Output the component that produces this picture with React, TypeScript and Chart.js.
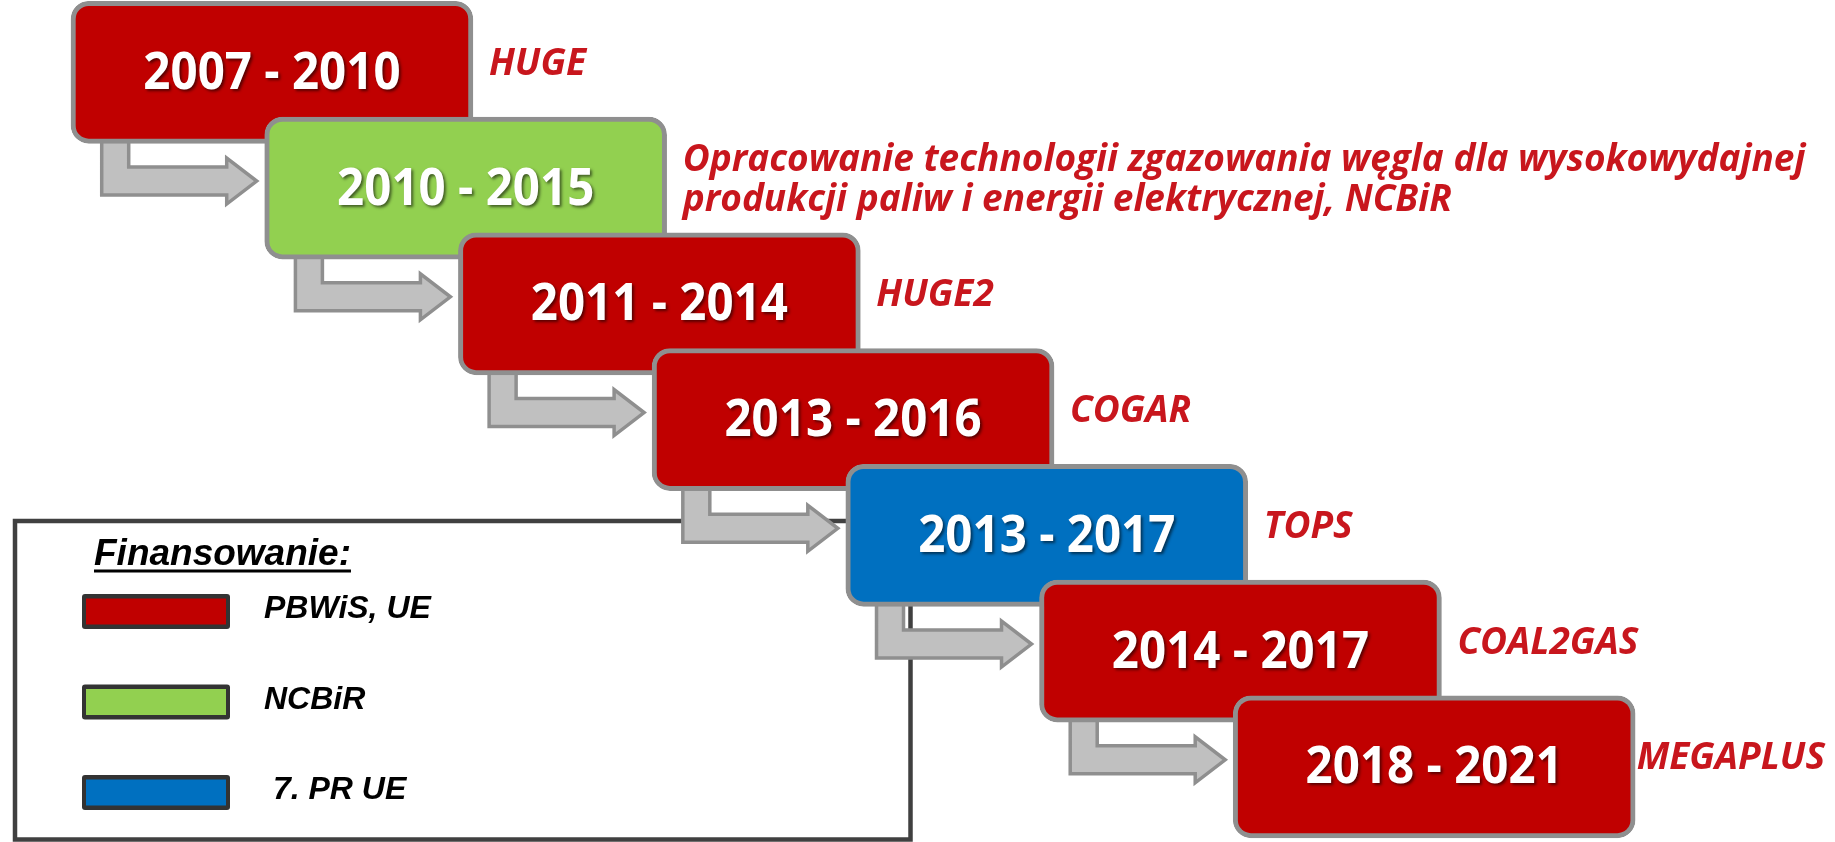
import React, { useEffect, useRef } from "react";
import { Chart, registerables } from "chart.js";

Chart.register(...registerables);

// ---- data ----
const periods = [
  "2007 - 2010",
  "2010 - 2015",
  "2011 - 2014",
  "2013 - 2016",
  "2013 - 2017",
  "2014 - 2017",
  "2018 - 2021",
];
const projectLabels: string[][] = [
  ["HUGE"],
  [
    "Opracowanie technologii zgazowania węgla dla wysokowydajnej",
    "produkcji paliw i energii elektrycznej, NCBiR",
  ],
  ["HUGE2"],
  ["COGAR"],
  ["TOPS"],
  ["COAL2GAS"],
  ["MEGAPLUS"],
];
const projectFunding = [0, 1, 0, 0, 2, 0, 0];
const fundingSources = ["PBWiS, UE", "NCBiR", " 7. PR UE"];
const fundingColors = ["#c00000", "#92d050", "#0070c0"];
const legendTitle = "Finansowanie:";
const stageSpan = 2.075; // each stage box spans about two steps of the staircase

const labelColor = "#c8161d";

function roundRectPath(ctx: CanvasRenderingContext2D, x: number, y: number, w: number, h: number, r: number) {
  ctx.beginPath();
  ctx.moveTo(x + r, y);
  ctx.lineTo(x + w - r, y);
  ctx.arcTo(x + w, y, x + w, y + r, r);
  ctx.lineTo(x + w, y + h - r);
  ctx.arcTo(x + w, y + h, x + w - r, y + h, r);
  ctx.lineTo(x + r, y + h);
  ctx.arcTo(x, y + h, x, y + h - r, r);
  ctx.lineTo(x, y + r);
  ctx.arcTo(x, y, x + r, y, r);
  ctx.closePath();
}

const diagramPlugin = {
  id: "diagram",
  beforeDatasetsDraw(chart: any) {
    const ctx: CanvasRenderingContext2D = chart.ctx;
    const bars = chart.getDatasetMeta(0).data;
    ctx.save();
    // legend frame
    ctx.strokeStyle = "#404040";
    ctx.lineWidth = 4.5;
    ctx.strokeRect(15, 521, 895.5, 318.5);
    // legend title
    ctx.fillStyle = "#000";
    ctx.font = 'italic bold 37px "Liberation Sans", Arial, sans-serif';
    ctx.textBaseline = "alphabetic";
    ctx.textAlign = "left";
    ctx.fillText(legendTitle, 94, 565);
    const tw = ctx.measureText(legendTitle).width;
    ctx.fillRect(94, 569.5, tw, 3);
    // legend rows
    fundingSources.forEach((s, k) => {
      const cy = 611.5 + k * 90.5;
      ctx.fillStyle = "#333333";
      roundRectPath(ctx, 82, cy - 17.5, 148, 35, 3);
      ctx.fill();
      ctx.fillStyle = fundingColors[k];
      ctx.fillRect(86, cy - 13, 140, 26);
      ctx.fillStyle = "#000";
      ctx.font = 'italic bold 32px "Liberation Sans", Arial, sans-serif';
      ctx.textBaseline = "middle";
      ctx.fillText(s, 264, cy - 2);
    });
    // bent arrows between consecutive stages
    for (let i = 0; i < bars.length - 1; i++) {
      const a = bars[i];
      const b = bars[i + 1];
      const aBottom = a.y + a.height / 2 - 4;
      const bLeft = Math.min(b.base, b.x);
      const cy = b.y - 7;
      const tip = bLeft - 8;
      const headX = tip - 30;
      const stemL = bLeft - 163;
      const stemR = stemL + 27;
      ctx.beginPath();
      ctx.moveTo(stemL, aBottom);
      ctx.lineTo(stemR, aBottom);
      ctx.lineTo(stemR, cy - 14);
      ctx.lineTo(headX, cy - 14);
      ctx.lineTo(headX, cy - 23);
      ctx.lineTo(tip, cy);
      ctx.lineTo(headX, cy + 23);
      ctx.lineTo(headX, cy + 14);
      ctx.lineTo(stemL, cy + 14);
      ctx.closePath();
      ctx.fillStyle = "#c0c0c0";
      ctx.fill();
      ctx.strokeStyle = "#8f8f8f";
      ctx.lineWidth = 3.5;
      ctx.lineJoin = "miter";
      ctx.stroke();
    }
    ctx.restore();
  },
  afterDatasetsDraw(chart: any) {
    const ctx: CanvasRenderingContext2D = chart.ctx;
    const bars = chart.getDatasetMeta(0).data;
    const canvasW = chart.width;
    ctx.save();
    bars.forEach((bar: any, i: number) => {
      const left = Math.min(bar.base, bar.x);
      const right = Math.max(bar.base, bar.x);
      const w = right - left;
      const cx = (left + right) / 2;
      // period text
      ctx.font = 'bold 52px "Open Sans", sans-serif';
      ctx.textAlign = "center";
      ctx.textBaseline = "alphabetic";
      const m = ctx.measureText(periods[i]);
      const sx = Math.min(1, (0.64 * w) / m.width);
      const asc = m.actualBoundingBoxAscent || 38;
      ctx.save();
      ctx.translate(cx, bar.y - 2.5 + asc / 2);
      ctx.scale(sx, 1);
      ctx.shadowColor = "rgba(0,0,0,0.55)";
      ctx.shadowOffsetX = 2;
      ctx.shadowOffsetY = 2;
      ctx.shadowBlur = 3;
      ctx.fillStyle = "#ffffff";
      ctx.fillText(periods[i], 0, 0);
      ctx.restore();
      // project label
      const lines = projectLabels[i];
      ctx.font = 'italic bold 37px "Open Sans", sans-serif';
      ctx.textAlign = "left";
      ctx.textBaseline = "middle";
      ctx.fillStyle = labelColor;
      const lh = 40;
      const top = bar.y - 8 - ((lines.length - 1) * lh) / 2;
      const maxW = Math.max(...lines.map((ln) => ctx.measureText(ln).width));
      const lx = Math.min(right + 16, canvasW - maxW - 10);
      lines.forEach((ln, k) => {
        ctx.fillText(ln, lx, top + k * lh);
      });
    });
    ctx.restore();
  },
};

export default function App() {
  const ref = useRef<HTMLCanvasElement | null>(null);
  useEffect(() => {
    if (!ref.current) return;
    const chart = new Chart(ref.current, {
      type: "bar",
      data: {
        datasets: [
          {
            data: periods.map((_, i) => ({ x: [i, i + stageSpan], y: i })) as any,
            backgroundColor: projectFunding.map((f) => fundingColors[f]),
            borderColor: "#8f8f8f",
            borderWidth: 5,
            borderRadius: 18,
            borderSkipped: false,
            barThickness: 142,
          },
        ],
      },
      options: {
        indexAxis: "y",
        animation: false,
        responsive: false,
        maintainAspectRatio: false,
        layout: { padding: 0 },
        scales: {
          x: { type: "linear", display: false, offset: false, min: -0.3666, max: 9.1068 },
          y: { type: "linear", display: false, offset: false, reverse: true, min: -0.6246, max: 6.6497 },
        },
        plugins: { legend: { display: false }, tooltip: { enabled: false } },
      },
      plugins: [diagramPlugin],
    });
    return () => chart.destroy();
  }, []);
  return (
    <div style={{ position: "absolute", left: 0, top: 0, width: 1835, height: 842, background: "#fff" }}>
      <canvas ref={ref} width={1835} height={842} />
    </div>
  );
}
